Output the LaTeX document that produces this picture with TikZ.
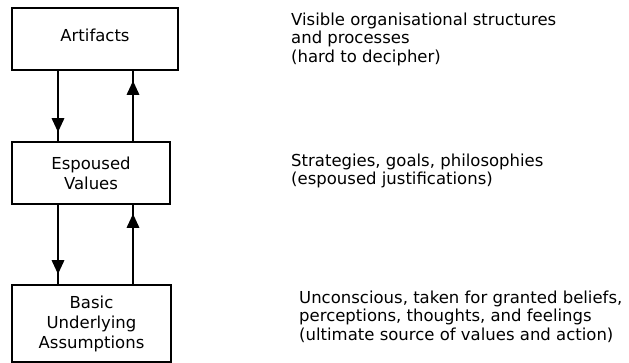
\documentclass[tikz,border=0pt]{standalone}
\usepackage{fontspec}
\setmainfont{DejaVu Sans}
\usetikzlibrary{arrows.meta}
\begin{document}
\begin{tikzpicture}[x=1pt,y=-1pt,
  box/.style={draw,line width=1.7pt,inner sep=0pt,align=center,
    font=\fontsize{16.5}{20}\selectfont},
  desc/.style={anchor=north west,inner sep=0pt,align=left,
    font=\fontsize{16.5}{18.5}\selectfont},
  conn/.style={line width=1.7pt},
  head/.style={line width=1.7pt,-{Triangle[width=12.5pt,length=14pt]}}]
\useasboundingbox (0,0) rectangle (629,363);
\node[box,minimum width=166pt,minimum height=62pt,text depth=7pt] (art) at (95,39) {Artifacts};
\node[box,minimum width=158pt,minimum height=62pt] (esp) at (91,173) {Espoused\\Values};
\node[box,minimum width=159pt,minimum height=77pt] (bas) at (91.5,323.5) {Basic\\Underlying\\Assumptions};
\coordinate (xl) at (58,0);
\coordinate (xr) at (133,0);
% artifacts <-> espoused
\draw[conn] (art.south -| xl) -- (esp.north -| xl);
\draw[head,shorten >=9pt] (art.south -| xl) -- (esp.north -| xl);
\draw[conn] (esp.north -| xr) -- (art.south -| xr);
\draw[head,shorten >=10pt] (esp.north -| xr) -- (art.south -| xr);
% espoused <-> basic
\draw[conn] (esp.south -| xl) -- (bas.north -| xl);
\draw[head,shorten >=10pt] (esp.south -| xl) -- (bas.north -| xl);
\draw[conn] (bas.north -| xr) -- (esp.south -| xr);
\draw[head,shorten >=9pt] (bas.north -| xr) -- (esp.south -| xr);
% descriptions
\node[desc] (d1) at (291,12.5) {Visible organisational structures\\and processes\\(hard to decipher)};
\node[desc] (d2) at (291,153.5) {Strategies, goals, philosophies\\(espoused justifications)};
\node[desc] (d3) at (299,290.5) {Unconscious, taken for granted beliefs,\\perceptions, thoughts, and feelings\\(ultimate source of values and action)};
\end{tikzpicture}
\end{document}
